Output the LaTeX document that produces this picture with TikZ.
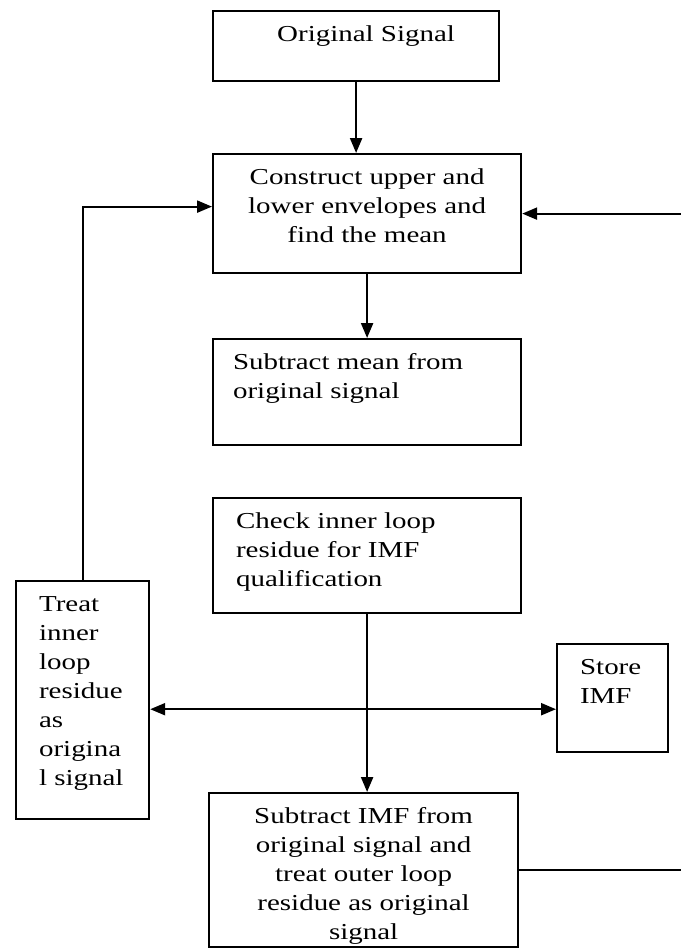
\documentclass[tikz,border=0pt]{standalone}
\usepackage{fontspec}
\setmainfont{Liberation Serif}[FakeStretch=1.27]
\usepackage{tikz}
\usetikzlibrary{arrows.meta,calc}
\newcommand{\blocktext}[3]{\parbox[t][#1][t]{#2}{#3}}

\begin{document}
\begin{tikzpicture}[x=0.5pt,y=-0.5pt,>={Triangle[length=7.5pt,width=6pt]},
  font=\fontsize{11.4pt}{14.5pt}\selectfont,
  blk/.style={draw,line width=1.1pt,anchor=north west,inner ysep=5pt,inner xsep=#1},
  blk/.default=6pt,
  link/.style={line width=1.1pt}]
\useasboundingbox (0,0) rectangle (681,950);
% blocks
\node[blk] (orig) at (212,10) {\blocktext{25pt}{131pt}{\centering\strut\hspace*{10pt}Original Signal}};
\node[blk] (env) at (212,153) {\blocktext{49.5pt}{142pt}{\centering\strut Construct upper and\\ lower envelopes and\\ find the mean}};
\node[blk=10pt] (sub) at (212,338) {\blocktext{43pt}{134pt}{\raggedright\strut Subtract mean from\\ original signal}};
\node[blk=11.5pt] (chk) at (212,497) {\blocktext{47.5pt}{131pt}{\raggedright\strut Check inner loop\\ residue for IMF\\ qualification}};
\node[blk=11.5pt] (treat) at (15,580) {\blocktext{109pt}{43.5pt}{\raggedright\strut Treat\\ inner\\ loop\\ residue\\ as\\ origina\\ l signal}};
\node[blk=11.5pt] (store) at (556,643) {\blocktext{44pt}{32.5pt}{\raggedright\strut Store\\ IMF}};
\node[blk] (imf) at (208,792) {\blocktext{67pt}{142.5pt}{\centering\strut Subtract IMF from\\ original signal and\\ treat outer loop\\ residue as original\\ signal}};
% connectors
\coordinate (split) at ($(chk.south)+(0,95)$);
\coordinate (rim) at (681,0);
\draw[link,->] (orig.south) -- (orig.south |- env.north);
\draw[link,->] (env.south) -- (env.south |- sub.north);
\draw[link,->] (chk.south) -- (chk.south |- imf.north);
\draw[link,->] (split) -- (split -| treat.east);
\draw[link,->] (split) -- (split -| store.west);
\draw[link,->] (treat.north) |- ($(env.west)+(0,-7)$);
\draw[link] (imf.east) -- (imf.east -| rim);
\draw[link,->] (env.east -| rim) -- (env.east);
\end{tikzpicture}
\end{document}
